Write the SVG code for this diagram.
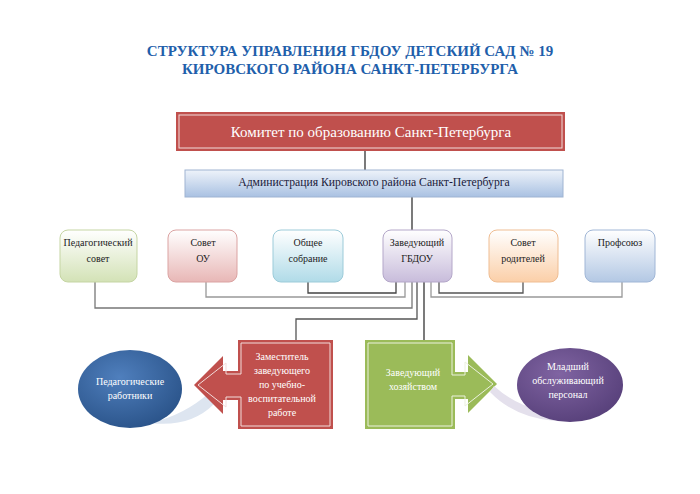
<svg xmlns="http://www.w3.org/2000/svg" width="700" height="494" viewBox="0 0 700 494">
<defs>
<linearGradient id="gAdm" x1="0" y1="0" x2="0" y2="1"><stop offset="0" stop-color="#eef3fa"/><stop offset="1" stop-color="#a9c1e2"/></linearGradient>
<linearGradient id="gGreen" x1="0" y1="0" x2="0" y2="1"><stop offset="0" stop-color="#ffffff"/><stop offset="1" stop-color="#d3e2b6"/></linearGradient>
<linearGradient id="gPink" x1="0" y1="0" x2="0" y2="1"><stop offset="0" stop-color="#ffffff"/><stop offset="1" stop-color="#e8b7b6"/></linearGradient>
<linearGradient id="gCyan" x1="0" y1="0" x2="0" y2="1"><stop offset="0" stop-color="#ffffff"/><stop offset="1" stop-color="#b0dbe8"/></linearGradient>
<linearGradient id="gLav" x1="0" y1="0" x2="0" y2="1"><stop offset="0" stop-color="#ffffff"/><stop offset="1" stop-color="#c8bcdb"/></linearGradient>
<linearGradient id="gOr" x1="0" y1="0" x2="0" y2="1"><stop offset="0" stop-color="#ffffff"/><stop offset="1" stop-color="#fbcfa8"/></linearGradient>
<linearGradient id="gBlue" x1="0" y1="0" x2="0" y2="1"><stop offset="0" stop-color="#ffffff"/><stop offset="1" stop-color="#b3c8e4"/></linearGradient>
<radialGradient id="gEllB" cx="0.4" cy="0.35" r="0.7"><stop offset="0" stop-color="#4f7fbd"/><stop offset="1" stop-color="#2a5389"/></radialGradient>
<radialGradient id="gEllP" cx="0.4" cy="0.35" r="0.7"><stop offset="0" stop-color="#8064a2"/><stop offset="1" stop-color="#57407a"/></radialGradient>
</defs>
<style>
text{font-family:"Liberation Serif","Times New Roman",serif}
.title{font-weight:bold;font-size:15px;fill:#1f5fab;text-anchor:middle}
.t{font-size:10px;fill:#222;text-anchor:middle}
.w{font-size:10px;fill:#fff;text-anchor:middle}
.box{stroke-width:1}
.ln{fill:none;stroke-width:1.3}
</style>

<text class="title" x="350" y="56">СТРУКТУРА УПРАВЛЕНИЯ ГБДОУ ДЕТСКИЙ САД № 19</text>
<text class="title" x="350" y="74">КИРОВСКОГО РАЙОНА САНКТ-ПЕТЕРБУРГА</text>

<g id="connectors">
<path class="ln" stroke="#333" d="M365 151V170"/>
<path class="ln" stroke="#333" d="M412 197V230"/>
<path class="ln" stroke="#777" d="M95 282V308H412V282"/>
<path class="ln" stroke="#999" d="M206 282V297H405V282"/>
<path class="ln" stroke="#444" d="M308 282V293H396V282"/>
<path class="ln" stroke="#555" d="M417 282V319H296V340"/>
<path class="ln" stroke="#333" d="M424 282V340"/>
<path class="ln" stroke="#999" d="M622 282V297H431V282"/>
<path class="ln" stroke="#555" d="M523 282V293H439V282"/>
</g>

<g id="committee">
<rect x="176" y="112" width="389" height="39" fill="#c0504d"/>
<rect x="179" y="115" width="383" height="33" fill="none" stroke="#f2dcdb" stroke-width="1"/>
<text x="371" y="137" font-size="15" fill="#fff" text-anchor="middle">Комитет по образованию Санкт-Петербурга</text>
</g>

<g id="admin">
<rect x="185" y="170" width="378" height="27" fill="url(#gAdm)" stroke="#9fb4d2" stroke-width="1"/>
<text x="374" y="186" font-size="11.7" fill="#1a1a3a" text-anchor="middle">Администрация Кировского района Санкт-Петербурга</text>
</g>

<g id="ped-sovet">
<rect class="box" x="60" y="230" width="77" height="52" rx="8" fill="url(#gGreen)" stroke="#c5d5a3"/>
<text class="t" x="98" y="246">Педагогический</text>
<text class="t" x="98" y="262">совет</text>
</g>
<g id="sovet-ou">
<rect class="box" x="168" y="230" width="69" height="52" rx="8" fill="url(#gPink)" stroke="#dba3a2"/>
<text class="t" x="203" y="246">Совет</text>
<text class="t" x="203" y="262">ОУ</text>
</g>
<g id="obshee">
<rect class="box" x="273" y="230" width="70" height="52" rx="8" fill="url(#gCyan)" stroke="#9ccbd9"/>
<text class="t" x="308" y="246">Общее</text>
<text class="t" x="308" y="262">собрание</text>
</g>
<g id="zav">
<rect class="box" x="383" y="230" width="69" height="52" rx="8" fill="url(#gLav)" stroke="#b4a7c9"/>
<text class="t" x="417" y="246">Заведующий</text>
<text class="t" x="417" y="262">ГБДОУ</text>
</g>
<g id="roditeli">
<rect class="box" x="489" y="230" width="69" height="52" rx="8" fill="url(#gOr)" stroke="#efbd92"/>
<text class="t" x="523" y="246">Совет</text>
<text class="t" x="523" y="262">родителей</text>
</g>
<g id="profsoyuz">
<rect class="box" x="585" y="230" width="70" height="52" rx="8" fill="url(#gBlue)" stroke="#a0b6d6"/>
<text class="t" x="620" y="246">Профсоюз</text>
</g>

<g id="ped-rabotniki">
<path d="M150 423 Q185 415 210 392 L214 404 Q190 428 150 423Z" fill="#dde5f0"/>
<ellipse cx="130" cy="389" rx="52" ry="39" fill="url(#gEllB)"/>
<text class="w" x="130" y="385">Педагогические</text>
<text class="w" x="130" y="399">работники</text>
</g>

<g id="zam">
<polygon points="238,340 333,340 333,429 238,429 238,400 223,400 223,414 194,385 223,356 223,371 238,371" fill="#c0504d"/>
<polygon points="241,343 330,343 330,426 241,426 241,397 226,397 226,407 198,385 226,363 226,374 241,374" fill="none" stroke="#f2dcdb" stroke-width="1"/>
<text class="w" x="282" y="360">Заместитель</text>
<text class="w" x="282" y="374">заведующего</text>
<text class="w" x="282" y="388">по учебно-</text>
<text class="w" x="282" y="402">воспитательной</text>
<text class="w" x="282" y="416">работе</text>
</g>

<g id="zavhoz">
<polygon points="365,340 455,340 455,372 468,372 468,355 497,384 468,413 468,399 455,399 455,429 365,429" fill="#9bbb59"/>
<polygon points="368,343 452,343 452,375 465,375 465,362 493,384 465,406 465,396 452,396 452,426 368,426" fill="none" stroke="#ebf1de" stroke-width="1"/>
<text class="w" x="413" y="376">Заведующий</text>
<text class="w" x="413" y="390">хозяйством</text>
</g>

<g id="mladshiy">
<path d="M490 392 Q515 418 555 421 L540 410 Q515 405 494 386Z" fill="#e4e0ec"/>
<ellipse cx="570" cy="385" rx="53" ry="37" fill="url(#gEllP)"/>
<text class="w" x="568" y="370">Младший</text>
<text class="w" x="568" y="384">обслуживающий</text>
<text class="w" x="568" y="398">персонал</text>
</g>
</svg>
